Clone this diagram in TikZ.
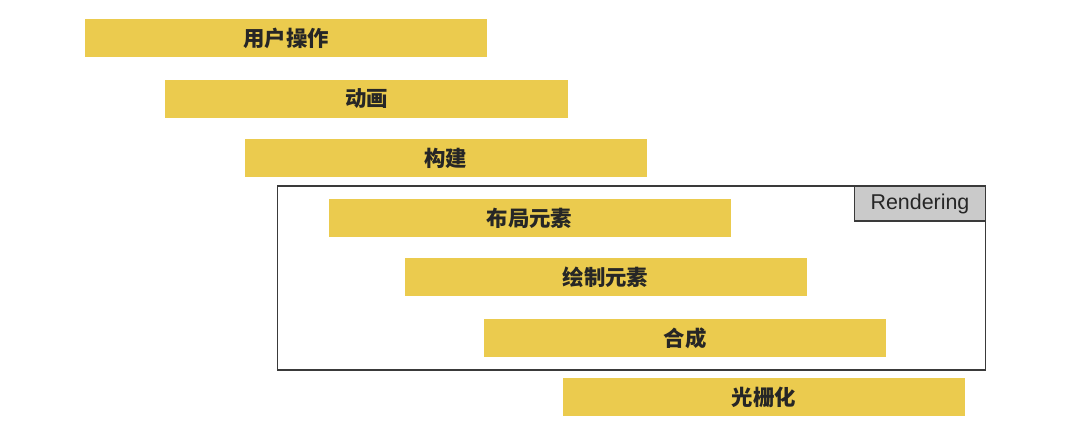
\documentclass[tikz,border=0pt]{standalone}
\usepackage{fontspec}
\setmainfont{Liberation Sans}
\newfontfamily\cjk{Noto Sans CJK SC}
\definecolor{baryellow}{HTML}{EBCB4E}
\definecolor{labelgray}{HTML}{CACACA}
\definecolor{framegray}{HTML}{3A3A3A}
\definecolor{txt}{HTML}{262626}
\begin{document}
\begin{tikzpicture}[x=1bp,y=-1bp,
  bar/.style={fill=baryellow, draw=none, minimum width=402bp, minimum height=38bp,
    inner sep=0pt, font=\cjk\bfseries\fontsize{21.5}{24}\selectfont, text=txt},
  frame/.style={draw=framegray, line width=1.4bp, fill=none},
  tag/.style={draw=framegray, line width=1.4bp, fill=labelgray, minimum width=131bp,
    minimum height=35bp, inner sep=0pt, font=\fontsize{21.5}{24}\selectfont, text=txt}]
\useasboundingbox (0,0) rectangle (1080,436);
\fill[white] (0,0) rectangle (1080,436);
\node[frame, minimum width=708bp, minimum height=184bp, inner sep=0pt] (box) at (631.5,278) {};
\node[tag, anchor=north east] (tag) at (box.north east) {Rendering};
\node[bar] (b1) at (286,38) {\raisebox{-1bp}{用户操作}};
\node[bar] (b2) at (366.5,99) {\raisebox{-1bp}{动画}};
\node[bar] (b3) at (445.5,158) {\raisebox{-1bp}{构建}};
\node[bar] (b4) at (529.5,218) {\raisebox{-1bp}{布局元素}};
\node[bar] (b5) at (605.5,277.5) {\raisebox{-1bp}{绘制元素}};
\node[bar] (b6) at (685,338) {\raisebox{-1bp}{合成}};
\node[bar] (b7) at (764,397.5) {\raisebox{-1bp}{光栅化}};
\end{tikzpicture}
\end{document}
